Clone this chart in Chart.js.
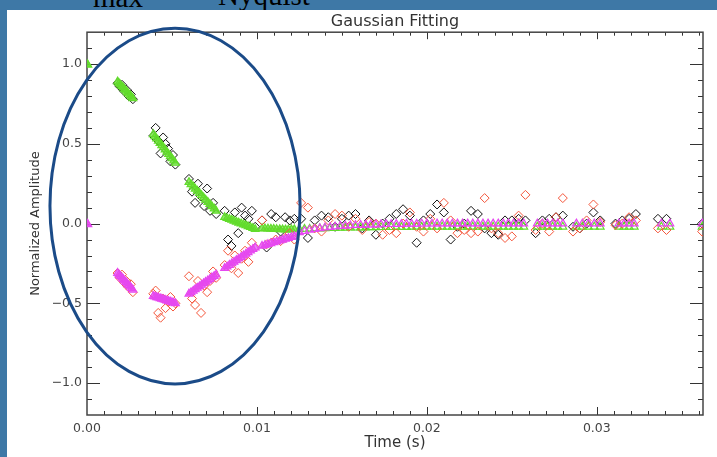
<!DOCTYPE html>
<html>
<head>
<meta charset="utf-8">
<script src="https://cdn.jsdelivr.net/npm/chart.js@4"></script>
<style>
  html, body { margin: 0; padding: 0; }
  body { width: 717px; height: 457px; position: relative; overflow: hidden; background: #3e78a6; }
  .hdr { position: absolute; font-family: "Liberation Serif", serif; font-size: 29px; line-height: 1; color: #000; white-space: nowrap; }
  #panel { position: absolute; left: 7px; top: 10px; right: 0; bottom: 0; background: #fff; }
  #c { position: absolute; left: 0; top: 0; }
</style>
</head>
<body>
<div class="hdr" style="left:93px; top:-17px;">max</div>
<div class="hdr" style="left:218px; top:-19px;">Nyquist</div>
<div id="panel"></div>
<canvas id="c" width="717" height="457"></canvas>
<script>
// measured sample times (s)
const dataTimes = [
  0.0, 0.00005,
  0.0018, 0.00193, 0.00206, 0.00219, 0.00232, 0.00245, 0.00258, 0.0027,
  0.0039, 0.00404, 0.00419, 0.00433, 0.00448, 0.00462, 0.00477, 0.00491, 0.00506, 0.0052,
  0.006, 0.00618, 0.00636, 0.00653, 0.00671, 0.00689, 0.00707, 0.00724, 0.00742, 0.0076,
  0.0081, 0.0083, 0.0085, 0.0087, 0.0089, 0.0091, 0.0093, 0.0095, 0.0097, 0.0099,
  0.0103, 0.01057, 0.01084, 0.01111, 0.01139, 0.01166, 0.01193, 0.0122,
  0.0126, 0.0130, 0.0134, 0.0138, 0.0142, 0.0146, 0.0150, 0.0154, 0.0158, 0.0162,
  0.0166, 0.0170, 0.0174, 0.0178, 0.0182, 0.0186, 0.0190, 0.0194, 0.0198, 0.0202,
  0.0206, 0.0210, 0.0214, 0.0218, 0.0222, 0.0226, 0.0230, 0.0234, 0.0238, 0.0242,
  0.0246, 0.0250, 0.0254, 0.0258,
  0.0264, 0.0268, 0.0272, 0.0276, 0.0280,
  0.0286, 0.0290, 0.0294, 0.0298, 0.0302,
  0.0311, 0.0315, 0.0319, 0.0323,
  0.0336, 0.0341,
  0.0362
];

// real part, measured (black diamonds)
const realData = [
  null, null,
  0.88, 0.86, 0.87, 0.83, 0.84, 0.80, 0.81, 0.78,
  0.55, 0.60, 0.52, 0.44, 0.54, 0.50, 0.47, 0.39, 0.43, 0.37,
  0.28, 0.20, 0.13, 0.25, 0.17, 0.11, 0.22, 0.08, 0.13, 0.06,
  0.08, -0.10, -0.14, 0.07, -0.06, 0.10, 0.05, 0.03, 0.08, -0.02,
  0.02, -0.15, 0.06, 0.04, -0.05, 0.04, 0.02, 0.03,
  0.03, -0.09, 0.02, 0.05, 0.04, -0.02, 0.03, 0.05, 0.06, -0.03,
  0.02, -0.07, 0.0, 0.03, 0.06, 0.09, 0.05, -0.12, 0.02, 0.06,
  0.12, 0.07, -0.10, -0.02, 0.0, 0.08, 0.06, -0.03, -0.06, -0.07,
  0.02, 0.02, 0.03, 0.02,
  -0.06, 0.02, 0.03, 0.04, 0.05,
  -0.02, -0.03, 0.0, 0.07, 0.02,
  0.0, 0.02, 0.03, 0.06,
  0.03, 0.03,
  0.0
];

// imaginary part, measured (red diamonds)
const imagData = [
  null, null,
  -0.31, -0.34, -0.32, -0.37, -0.36, -0.40, -0.38, -0.43,
  -0.44, -0.42, -0.56, -0.59, -0.47, -0.53, -0.49, -0.46, -0.52, -0.50,
  -0.33, -0.47, -0.51, -0.36, -0.56, -0.39, -0.43, -0.36, -0.30, -0.34,
  -0.26, -0.17, -0.28, -0.20, -0.31, -0.22, -0.17, -0.24, -0.12, -0.15,
  0.02, -0.13, -0.12, -0.10, -0.11, -0.09, -0.06, -0.10,
  0.13, 0.10, -0.03, -0.05, 0.02, 0.06, 0.05, -0.02, 0.03, -0.04,
  0.01, 0.0, -0.07, -0.04, -0.06, 0.0, 0.07, -0.02, -0.05, 0.03,
  -0.03, 0.13, 0.02, -0.06, -0.04, -0.06, -0.05, 0.16, -0.03, -0.06,
  -0.09, -0.08, 0.05, 0.18,
  -0.04, 0.0, -0.05, 0.04, 0.16,
  -0.05, -0.03, 0.02, 0.12, 0.01,
  -0.01, 0.0, 0.04, 0.02,
  -0.03, -0.04,
  -0.05
];

// fit sample times (s)
const fitTimes = [
  0.0, 0.00005,
  0.0018, 0.00188, 0.00196, 0.00205, 0.00213, 0.00221, 0.00229, 0.00237, 0.00245, 0.00254, 0.00262, 0.0027,
  0.0039, 0.0040, 0.0041, 0.0042, 0.0043, 0.0044, 0.0045, 0.0046, 0.0047, 0.0048, 0.0049, 0.0050, 0.0051, 0.0052,
  0.006, 0.00612, 0.00625, 0.00637, 0.00649, 0.00662, 0.00674, 0.00686, 0.00698, 0.00711, 0.00723, 0.00735, 0.00748, 0.0076,
  0.0081, 0.00824, 0.00838, 0.00852, 0.00865, 0.00879, 0.00893, 0.00907, 0.00921, 0.00935, 0.00948, 0.00962, 0.00976, 0.0099,
  0.0103, 0.01047, 0.01065, 0.01082, 0.01099, 0.01116, 0.01134, 0.01151, 0.01168, 0.01185, 0.01203, 0.0122,
  0.0125, 0.0128, 0.0131, 0.0134, 0.0137, 0.0140, 0.0143, 0.0146, 0.0149, 0.0152,
  0.0155, 0.0158, 0.0161, 0.0164, 0.0167, 0.0170, 0.0173, 0.0176, 0.0179, 0.0182,
  0.0185, 0.0188, 0.0191, 0.0194, 0.0197, 0.0200, 0.0203, 0.0206, 0.0209, 0.0212,
  0.0215, 0.0218, 0.0221, 0.0224, 0.0227, 0.0230, 0.0233, 0.0236, 0.0239, 0.0242,
  0.0245, 0.0248, 0.0251, 0.0254, 0.0257,
  0.0265, 0.0268, 0.0271, 0.0274, 0.0277, 0.0280,
  0.0288, 0.02915, 0.0295, 0.02985, 0.0302,
  0.0313, 0.0316, 0.0319, 0.0322,
  0.0338, 0.0343,
  0.0362
];

// real part, gaussian fit (green triangles)
const realFit = [
  1.0, 0.995,
  0.89, 0.88, 0.871, 0.861, 0.852, 0.842, 0.833, 0.823, 0.814, 0.804, 0.795, 0.785,
  0.56, 0.546, 0.532, 0.518, 0.505, 0.491, 0.477, 0.463, 0.449, 0.435, 0.422, 0.408, 0.394, 0.38,
  0.26, 0.246, 0.232, 0.218, 0.205, 0.191, 0.177, 0.163, 0.149, 0.135, 0.122, 0.108, 0.094, 0.08,
  0.04, 0.034, 0.028, 0.023, 0.017, 0.011, 0.005, 0.0, -0.006, -0.012, -0.018, -0.023, -0.029, -0.035,
  -0.03, -0.031, -0.032, -0.033, -0.034, -0.035, -0.036, -0.037, -0.038, -0.038, -0.037, -0.036,
  -0.035, -0.034, -0.033, -0.032, -0.031, -0.03, -0.029, -0.028, -0.027, -0.027,
  -0.026, -0.026, -0.025, -0.025, -0.024, -0.024, -0.023, -0.023, -0.023, -0.022,
  -0.022, -0.022, -0.021, -0.021, -0.021, -0.021, -0.02, -0.02, -0.02, -0.02,
  -0.02, -0.02, -0.02, -0.02, -0.02, -0.02, -0.02, -0.02, -0.02, -0.02,
  -0.02, -0.02, -0.02, -0.02, -0.02,
  -0.02, -0.02, -0.02, -0.02, -0.02, -0.02,
  -0.02, -0.02, -0.02, -0.02, -0.02,
  -0.02, -0.02, -0.02, -0.02,
  -0.02, -0.02,
  -0.02
];

// imaginary part, gaussian fit (magenta triangles)
const imagFit = [
  0.0, -0.005,
  -0.31, -0.32, -0.329, -0.339, -0.348, -0.358, -0.367, -0.377, -0.386, -0.396, -0.405, -0.415,
  -0.455, -0.458, -0.462, -0.465, -0.469, -0.472, -0.476, -0.479, -0.483, -0.486, -0.49, -0.493, -0.497, -0.5,
  -0.44, -0.431, -0.422, -0.412, -0.403, -0.394, -0.385, -0.375, -0.366, -0.357, -0.348, -0.338, -0.329, -0.32,
  -0.28, -0.27, -0.26, -0.25, -0.24, -0.23, -0.22, -0.21, -0.2, -0.19, -0.18, -0.17, -0.16, -0.15,
  -0.14, -0.135, -0.129, -0.124, -0.118, -0.113, -0.107, -0.102, -0.096, -0.091, -0.085, -0.08,
  -0.055, -0.047, -0.04, -0.035, -0.03, -0.026, -0.022, -0.019, -0.016, -0.014,
  -0.012, -0.01, -0.009, -0.008, -0.007, -0.006, -0.005, -0.004, -0.004, -0.003,
  -0.003, -0.002, -0.002, -0.002, -0.001, -0.001, -0.001, 0, 0, 0,
  0, 0, 0, 0, 0, 0, 0, 0, 0, 0,
  0, 0, 0, 0, 0,
  0, 0, 0, 0, 0, 0,
  0, 0, 0, 0, 0,
  0, 0, 0, 0,
  0, 0,
  0
];

const xTicks = [0.0, 0.01, 0.02, 0.03];
const yTicks = [-1.0, -0.5, 0.0, 0.5, 1.0];

// hand-drawn highlight ellipse, in data units
const ellipse = { t: 0.00518, v: 0.11, dt: 0.00736, dv: 1.115 };

const pts = (ts, vals) => ts.map((t, i) => ({ x: t, y: vals[i] })).filter(p => p.y !== null);

// early bursts are so dense the triangles merge into solid blobs
const blobFill = (color) => (c) => (c.raw && c.raw.x < 0.0123 ? color : "rgba(0,0,0,0)");

const axisFont = { family: "DejaVu Sans", size: 12.5 };

const framePlugin = {
  id: "frame",
  beforeDatasetsDraw(chart) {
    const { ctx, chartArea: a, scales: { x, y } } = chart;
    ctx.save();
    ctx.strokeStyle = "#333";
    ctx.lineWidth = 1;
    ctx.beginPath();
    // x ticks every 0.001, major every 0.01
    for (let i = 1; i <= 36; i++) {
      const px = Math.round(x.getPixelForValue(i / 1000)) + 0.5;
      const major = i % 10 === 0;
      ctx.moveTo(px, a.bottom);
      ctx.lineTo(px, a.bottom - (major ? 8 : 4));
      ctx.moveTo(px, a.top);
      ctx.lineTo(px, a.top + (major ? 7 : 3.5));
    }
    // y ticks every 0.1, major every 0.5
    for (let i = -11; i <= 11; i++) {
      const py = Math.round(y.getPixelForValue(i / 10)) + 0.5;
      const major = i % 5 === 0;
      ctx.moveTo(a.left, py);
      ctx.lineTo(a.left + (major ? 13 : 5), py);
      ctx.moveTo(a.right, py);
      ctx.lineTo(a.right - (major ? 13 : 5), py);
    }
    ctx.stroke();
    ctx.lineWidth = 1.5;
    ctx.strokeStyle = "#444";
    ctx.strokeRect(a.left, a.top, a.right - a.left, a.bottom - a.top);
    ctx.restore();
  },
  afterDatasetsDraw(chart) {
    const { ctx, scales: { x, y } } = chart;
    const cx = x.getPixelForValue(ellipse.t);
    const cy = y.getPixelForValue(ellipse.v);
    const rx = Math.abs(x.getPixelForValue(ellipse.t + ellipse.dt) - cx);
    const ry = Math.abs(y.getPixelForValue(ellipse.v + ellipse.dv) - cy);
    ctx.save();
    ctx.strokeStyle = "#1b4b88";
    ctx.lineWidth = 3;
    ctx.beginPath();
    ctx.ellipse(cx, cy, rx, ry, 0, 0, Math.PI * 2);
    ctx.stroke();
    ctx.restore();
  }
};

const fmt = (v, d) => v.toFixed(d).replace("-", "\u2212");

new Chart(document.getElementById("c"), {
  type: "scatter",
  data: {
    datasets: [
      {
        label: "Imag fit",
        data: pts(fitTimes, imagFit),
        pointStyle: "triangle",
        pointRadius: 4.5,
        borderColor: "#e648f0",
        backgroundColor: blobFill("rgba(230,72,240,0.7)"),
        borderWidth: 1.2,
        clip: 0
      },
      {
        label: "Imag data",
        data: pts(dataTimes, imagData),
        pointStyle: "rectRot",
        pointRadius: 4.5,
        borderColor: "#f4553a",
        backgroundColor: "rgba(0,0,0,0)",
        borderWidth: 1,
        clip: 0
      },
      {
        label: "Real fit",
        data: pts(fitTimes, realFit),
        pointStyle: "triangle",
        pointRadius: 4.5,
        borderColor: "#62dc2c",
        backgroundColor: blobFill("rgba(98,220,44,0.7)"),
        borderWidth: 1.2,
        clip: 0
      },
      {
        label: "Real data",
        data: pts(dataTimes, realData),
        pointStyle: "rectRot",
        pointRadius: 4.5,
        borderColor: "#111",
        backgroundColor: "rgba(0,0,0,0)",
        borderWidth: 1,
        clip: 0
      }
    ]
  },
  options: {
    responsive: false,
    animation: false,
    layout: { padding: { right: 14 } },
    plugins: {
      legend: { display: false },
      tooltip: { enabled: false },
      title: {
        display: true,
        fullSize: false,
        text: "Gaussian Fitting",
        color: "#333",
        font: { family: "DejaVu Sans", size: 16, weight: "normal" },
        padding: { top: 12, bottom: 1 }
      }
    },
    scales: {
      x: {
        type: "linear",
        min: 0,
        max: 0.03625,
        grid: { display: false, drawTicks: false },
        border: { display: false },
        afterFit: (s) => { s.height = 42; },
        afterBuildTicks: (s) => { s.ticks = xTicks.map(v => ({ value: v })); },
        ticks: {
          padding: 6,
          color: "#444",
          font: axisFont,
          maxRotation: 0,
          autoSkip: false,
          callback: (v) => fmt(v, 2)
        },
        title: {
          display: true,
          text: "Time (s)",
          color: "#333",
          font: { family: "DejaVu Sans", size: 15 },
          padding: { top: 0, bottom: 5 }
        }
      },
      y: {
        type: "linear",
        min: -1.2,
        max: 1.2,
        grid: { display: false, drawTicks: false },
        border: { display: false },
        afterFit: (s) => { s.width = 87; },
        afterBuildTicks: (s) => { s.ticks = yTicks.map(v => ({ value: v })); },
        ticks: {
          padding: 5,
          color: "#444",
          font: axisFont,
          callback: (v) => fmt(v, 1)
        },
        title: {
          display: true,
          text: "Normalized Amplitude",
          color: "#333",
          font: { family: "DejaVu Sans", size: 13 },
          padding: { top: 28, bottom: 0 }
        }
      }
    }
  },
  plugins: [framePlugin]
});
</script>
</body>
</html>
